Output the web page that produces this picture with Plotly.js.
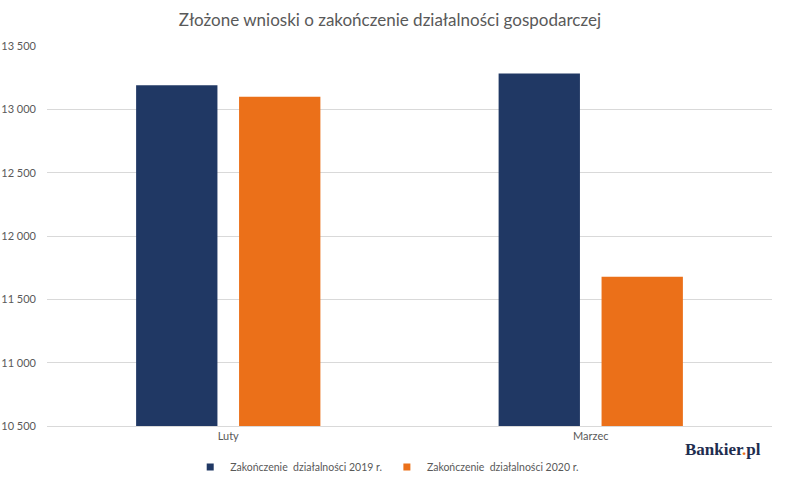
<!DOCTYPE html>
<html>
<head>
<meta charset="utf-8">
<script src="https://cdn.plot.ly/plotly-3.0.1.min.js"></script>
<style>
  html, body { margin: 0; padding: 0; background: #fff; }
  #chart { width: 786px; height: 486px; }
</style>
</head>
<body>
<div id="chart"></div>
<script>
"use strict";

const months = ['Luty', 'Marzec'];
const closed2019 = [13190, 13282];
const closed2020 = [13100, 11678];
const seriesNames = ['Zakończenie\u00a0 działalności 2019 r.', 'Zakończenie\u00a0 działalności 2020 r.'];
const seriesColors = ['#203864', '#eb7019'];
const yTicks = [10500, 11000, 11500, 12000, 12500, 13000, 13500];

const font = 'Lato, "Open Sans", sans-serif';
const grey = '#595959';

let data = [];

[closed2019, closed2020].forEach((values, i) => {
  data.push({
    x: months,
    y: values,
    name: seriesNames[i],
    type: 'bar',
    marker: { color: seriesColors[i] },
    showlegend: false,
    hoverinfo: 'none'
  });
});

// small square swatches for the legend, like the original
seriesNames.forEach((name, i) => {
  data.push({
    x: [null],
    y: [null],
    name: name,
    type: 'scatter',
    mode: 'markers',
    marker: { symbol: 'square', size: 7, color: seriesColors[i] },
    hoverinfo: 'none'
  });
});

let layout = {
  width: 786,
  height: 486,
  margin: { l: 47, r: 14, t: 46, b: 60 },
  paper_bgcolor: '#fff',
  plot_bgcolor: '#fff',
  separators: ', ',
  font: { family: font, size: 11, color: grey },
  title: {
    text: 'Złożone wnioski o zakończenie działalności gospodarczej',
    font: { family: font, size: 17, color: grey },
    x: 0.496,
    xanchor: 'center',
    y: 0.958,
    yanchor: 'middle'
  },
  barmode: 'group',
  bargap: 0.432,
  bargroupgap: 0.21,
  xaxis: {
    showgrid: false,
    showline: true,
    linecolor: '#d9d9d9',
    linewidth: 1,
    ticks: '',
    tickfont: { family: font, size: 11, color: grey },
    automargin: false
  },
  yaxis: {
    range: [10500, 13500],
    tickvals: yTicks,
    tickformat: ',d',
    showgrid: true,
    gridcolor: '#d9d9d9',
    zeroline: false,
    ticks: '',
    ticklabelstandoff: 10,
    tickfont: { family: font, size: 11, color: grey },
    automargin: false
  },
  showlegend: true,
  legend: {
    orientation: 'h',
    xref: 'container',
    yref: 'container',
    x: 0.242,
    xanchor: 'left',
    y: 0.039,
    yanchor: 'middle',
    font: { family: font, size: 10.5, color: grey },
    itemwidth: 30,
    tracegroupgap: 0
  },
  annotations: [
    {
      text: '<b>Bankier<span style="color:#eb7019">.</span>pl</b>',
      xref: 'paper',
      yref: 'paper',
      x: 0.988,
      xanchor: 'right',
      y: -0.063,
      yanchor: 'middle',
      showarrow: false,
      font: { family: '"Liberation Serif", "DejaVu Serif", serif', size: 17, color: '#1f2d4f' }
    }
  ]
};

Plotly.newPlot('chart', data, layout, { displayModeBar: false, staticPlot: true });
</script>
</body>
</html>
